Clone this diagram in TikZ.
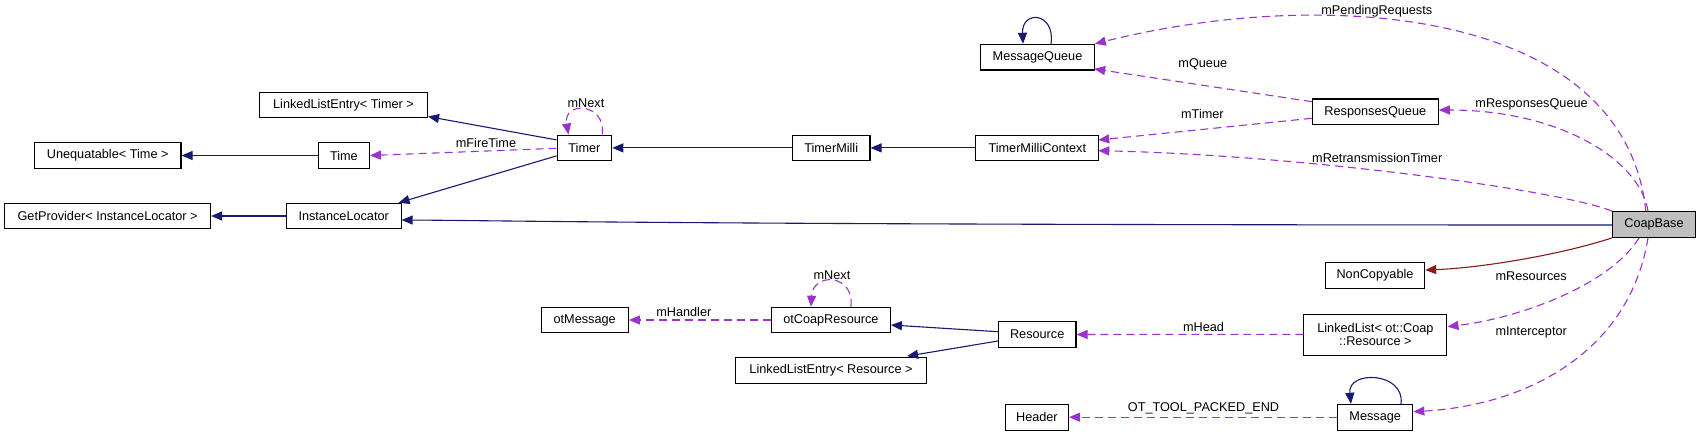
\documentclass[tikz,border=0pt]{standalone}
\usepackage{fontspec}
\setmainfont{Liberation Sans}
\usetikzlibrary{arrows.meta,calc}
\definecolor{navy}{HTML}{191970}
\definecolor{orchid}{HTML}{9A32CD}
\definecolor{fire}{HTML}{8B1A1A}
\begin{document}
\begin{tikzpicture}[x=1pt,y=-1pt,font=\fontsize{12.7}{14.5}\selectfont,
  box/.style={draw=black,line width=1.1pt,fill=white,minimum height=25.7pt,inner sep=0pt,align=center},
  tipstyle/.style={-{Triangle[length=11pt,width=9pt]}},
  inh/.style={draw=navy,line width=1.1pt,tipstyle},
  use/.style={draw=orchid,line width=1.1pt,dash pattern=on 8pt off 5pt,tipstyle},
  priv/.style={draw=fire,line width=1.1pt,tipstyle},
  lbl/.style={inner sep=0pt}]
\useasboundingbox (0,0) rectangle (1701,436);
% nodes
\node[box,fill=black!25,minimum width=83pt] (coap) at (1654,224.5) {CoapBase};
\node[box,minimum width=113.6pt] (mq) at (1037.5,57.2) {MessageQueue};
\node[box,minimum width=125.8pt] (rq) at (1375.3,111.9) {ResponsesQueue};
\node[box,minimum width=123.2pt] (tmc) at (1037.3,147.9) {TimerMilliContext};
\node[box,minimum width=77.6pt] (tm) at (831.2,147.9) {TimerMilli};
\node[box,minimum width=54.7pt] (timer) at (584.4,147.9) {Timer};
\node[box,minimum width=168pt,minimum height=25pt] (llet) at (343.5,105.2) {LinkedListEntry< Timer >};
\node[box,minimum width=51pt] (time) at (343.9,155.5) {Time};
\node[box,minimum width=146.6pt] (uneq) at (107.7,155.5) {Unequatable< Time >};
\node[box,minimum width=114.7pt,minimum height=25.4pt] (il) at (343.7,216) {InstanceLocator};
\node[box,minimum width=205.9pt,minimum height=25.4pt] (gp) at (107.6,216) {GetProvider< InstanceLocator >};
\node[box,minimum width=99.3pt,minimum height=26pt] (nc) at (1375,275.7) {NonCopyable};
\node[box,minimum width=143pt,minimum height=40.7pt,font=\fontsize{12.7}{13.5}\selectfont] (ll) at (1375.4,334.7) {LinkedList< ot::Coap\\::Resource >};
\node[box,minimum width=75.2pt] (msg) at (1375.2,417.2) {Message};
\node[box,minimum width=63.1pt] (hdr) at (1036.9,417.2) {Header};
\node[box,minimum width=77.6pt] (res) at (1037.2,334.5) {Resource};
\node[box,minimum width=119pt,minimum height=25.4pt] (ocr) at (830.9,320) {otCoapResource};
\node[box,minimum width=191pt,minimum height=25.6pt] (lle) at (831,370.5) {LinkedListEntry< Resource >};
\node[box,minimum width=87.3pt,minimum height=25.4pt] (otm) at (584.7,320) {otMessage};
% labels
\node[lbl] (l1) at (486,142.7) {mFireTime};
\node[lbl] (l2) at (586,103) {mNext};
\node[lbl] (l3) at (1376.8,11.7) {mPendingRequests};
\node[lbl] (l4) at (1202.8,64.3) {mQueue};
\node[lbl] (l5) at (1202.4,114.3) {mTimer};
\node[lbl] (l6) at (1377.2,158.3) {mRetransmissionTimer};
\node[lbl] (l7) at (1531.6,104.3) {mResponsesQueue};
\node[lbl] (l8) at (1531.2,275.7) {mResources};
\node[lbl] (l9) at (1531.2,332.7) {mInterceptor};
\node[lbl] (l10) at (1203.5,326.7) {mHead};
\node[lbl] (l11) at (1203.5,408.3) {OT\_TOOL\_PACKED\_END};
\node[lbl] (l12) at (683.8,311.7) {mHandler};
\node[lbl] (l13) at (832,275) {mNext};
% edges
\draw[inh] ($(timer.west)+(0,-8)$) -- ($(llet.south east)+(0,-1.7)$);
\draw[use] ($(timer.west)+(0,0.4)$) -- (time.east);
\draw[inh] ($(timer.west)+(0,8)$) -- ($(il.north east)+(-3,0)$);
\draw[inh] (time.west) -- (uneq.east);
\draw[inh] (il.west) -- (gp.east);
\draw[inh] (tm.west) -- (timer.east);
\draw[inh] (tmc.west) -- (tm.east);
\draw[use] ($(timer.north east)+(-10,0)$) .. controls ($(timer.north east)+(-6,-32)$) and ($(timer.north west)+(6,-34)$) .. ($(timer.north west)+(12,0)$);
\draw[inh] ($(mq.north)+(13.5,0)$) .. controls ($(mq.north)+(18,-32)$) and ($(mq.north)+(-16,-34)$) .. ($(mq.north)+(-14.5,0)$);
\draw[use] ($(coap.north)+(-8.2,0)$) .. controls (1625,10) and (1330,-15) .. (mq.north east);
\draw[use] ($(rq.west)+(0,-10.2)$) -- ($(mq.south east)+(-0.7,-1.7)$);
\draw[use] ($(rq.west)+(0,6.4)$) -- ($(tmc.east)+(-1.2,-7.9)$);
\draw[use] (coap.north west) .. controls (1560,190) and (1300,155) .. ($(tmc.east)+(-1.2,2.8)$);
\draw[use] ($(coap.north)+(-6,0)$) .. controls (1640,160) and (1560,110) .. ($(rq.east)+(0,-1.9)$);
\draw[inh] ($(coap.west)+(0,0.5)$) .. controls (700,225) and (500,220.5) .. ($(il.east)+(0,4)$);
\draw[priv] (coap.south west) .. controls (1560,255) and (1480,268) .. ($(nc.east)+(0,-5.7)$);
\draw[use] ($(coap.south)+(-15,0)$) .. controls (1610,285) and (1520,318) .. ($(ll.east)+(0,-8)$);
\draw[use] ($(coap.south)+(-6,0)$) .. controls (1630,350) and (1530,405) .. ($(msg.east)+(0,-5.5)$);
\draw[use] ($(ll.west)+(0,-0.4)$) -- (res.east);
\draw[use] (msg.west) -- (hdr.east);
\draw[inh] ($(msg.north)+(25.8,0)$) .. controls ($(msg.north)+(30,-32)$) and ($(msg.north)+(-28,-34)$) .. ($(msg.north)+(-24.2,0)$);
\draw[inh] ($(res.west)+(0,-2.8)$) -- ($(ocr.east)+(0,5)$);
\draw[inh] ($(res.west)+(0,6.5)$) -- ($(lle.north east)+(-20,-1)$);
\draw[use] (ocr.west) -- (otm.east);
\draw[use] ($(ocr.north)+(20,0)$) .. controls ($(ocr.north)+(24,-33)$) and ($(ocr.north)+(-18,-35)$) .. ($(ocr.north)+(-19.9,0)$);
\end{tikzpicture}
\end{document}
